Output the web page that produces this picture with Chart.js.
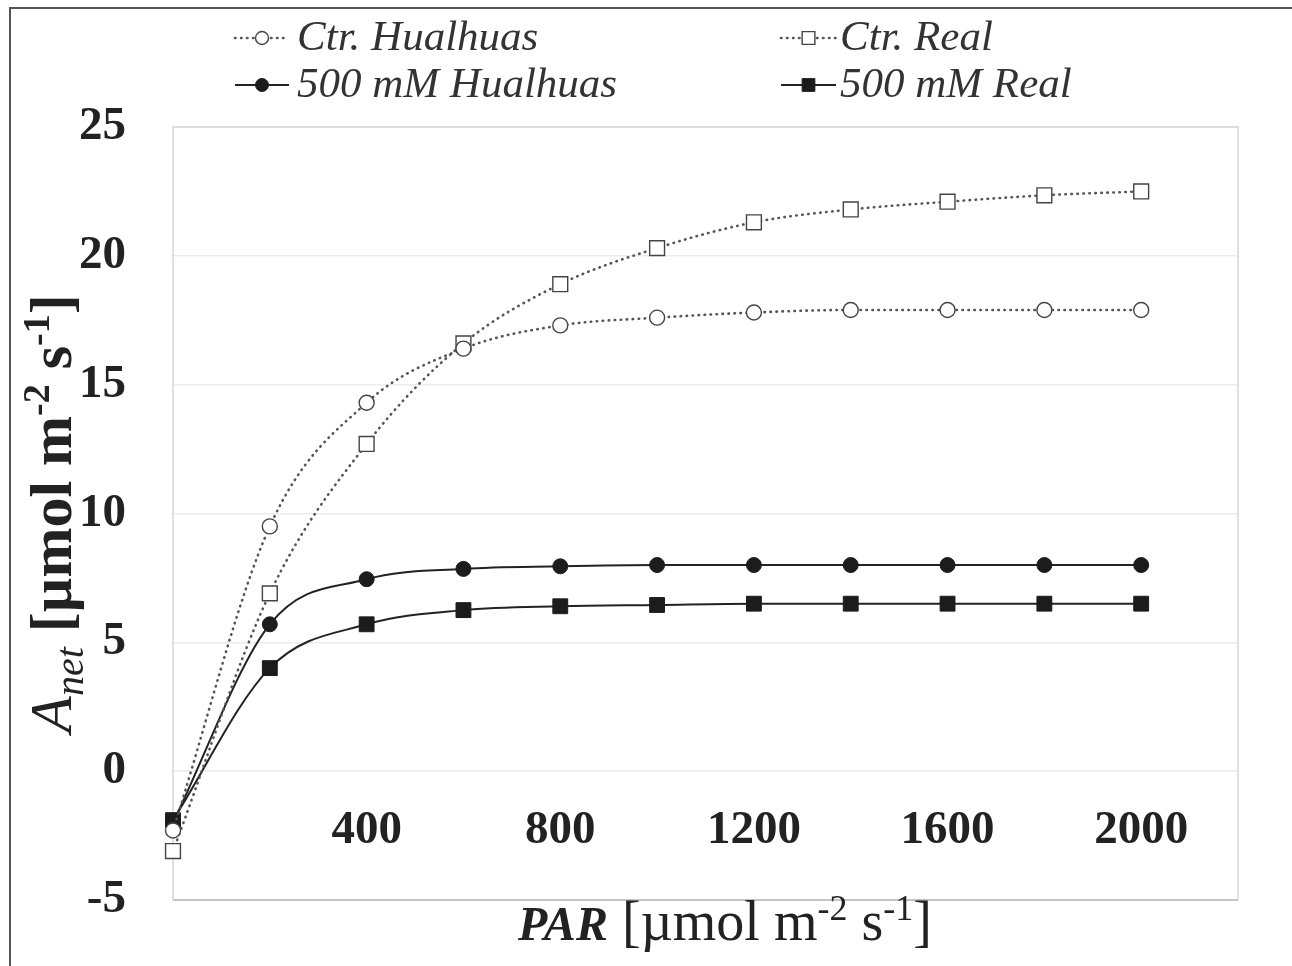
<!DOCTYPE html>
<html lang="en">
<head>
  <meta charset="UTF-8" />
  <title>Anet - PAR light response</title>
  <script src="https://cdn.jsdelivr.net/npm/chart.js"></script>
  <style>
    html, body { margin: 0; padding: 0; background: #fff; }
    #wrap { width: 1292px; height: 966px; }
  </style>
</head>
<body>
  <div id="wrap"><canvas id="chart" width="1292" height="966"></canvas></div>
  <script>
    // values
    const par = [0, 200, 400, 600, 800, 1000, 1200, 1400, 1600, 1800, 2000];
    const ctrHualhuas = [-2.3, 9.5, 14.3, 16.4, 17.3, 17.6, 17.8, 17.9, 17.9, 17.9, 17.9];
    const ctrReal = [-3.1, 6.9, 12.7, 16.6, 18.9, 20.3, 21.3, 21.8, 22.1, 22.35, 22.5];
    const saltHualhuas = [-2.0, 5.7, 7.45, 7.85, 7.95, 8.0, 8.0, 8.0, 8.0, 8.0, 8.0];
    const saltReal = [-1.9, 4.0, 5.7, 6.25, 6.4, 6.45, 6.5, 6.5, 6.5, 6.5, 6.5];
    const seriesNames = ["Ctr. Hualhuas", "Ctr. Real", "500 mM Hualhuas", "500 mM Real"];
    const xTickLabels = [400, 800, 1200, 1600, 2000];
    const yTickLabels = [-5, 0, 5, 10, 15, 20, 25];

    const SERIF = "'Liberation Serif', 'Times New Roman', serif";
    const toPoints = (vals) => par.map((x, i) => ({ x: x, y: vals[i] }));

    function dotted(label, vals, shape) {
      return {
        label: label,
        data: toPoints(vals),
        borderColor: "#555",
        borderWidth: 2.6,
        borderDash: [0.5, 5.5],
        borderCapStyle: "round",
        cubicInterpolationMode: "monotone",
        pointStyle: shape,
        pointRadius: shape === "rect" ? 10.5 : 7.5,
        pointBackgroundColor: "#fff",
        pointBorderColor: "#444",
        pointBorderWidth: 1.4,
        clip: false
      };
    }

    function solid(label, vals, shape) {
      return {
        label: label,
        data: toPoints(vals),
        borderColor: "#222",
        borderWidth: 2,
        cubicInterpolationMode: "monotone",
        pointStyle: shape,
        pointRadius: shape === "rect" ? 10.5 : 7.5,
        pointBackgroundColor: "#1c1c1c",
        pointBorderColor: "#1c1c1c",
        pointBorderWidth: 1,
        clip: false
      };
    }

    function drawMarker(ctx, style, x, y, r, fill, stroke, bw) {
      ctx.beginPath();
      if (style === "rect") {
        const h = r * Math.SQRT1_2;
        ctx.rect(x - h, y - h, 2 * h, 2 * h);
      } else {
        ctx.arc(x, y, r, 0, Math.PI * 2);
      }
      ctx.fillStyle = fill;
      ctx.fill();
      ctx.lineWidth = bw;
      ctx.strokeStyle = stroke;
      ctx.stroke();
    }

    // draws text made of pieces (sub/superscripts), centred on cx
    function richText(ctx, pieces, cx, y) {
      let total = 0;
      pieces.forEach(p => { ctx.font = p.font; p.w = ctx.measureText(p.t).width; total += p.w; });
      let x = cx - total / 2;
      ctx.textAlign = "left";
      ctx.textBaseline = "alphabetic";
      pieces.forEach(p => {
        ctx.font = p.font;
        ctx.fillText(p.t, x, y + (p.dy || 0));
        x += p.w;
      });
    }

    const decorations = {
      id: "decorations",
      beforeDatasetsDraw(chart) {
        const { ctx, chartArea: a } = chart;
        ctx.save();
        ctx.strokeStyle = "#d6d6d6";
        ctx.lineWidth = 1.5;
        ctx.strokeRect(a.left, a.top, a.right - a.left, a.bottom - a.top);
        ctx.strokeStyle = "#bdbdbd";
        ctx.beginPath();
        ctx.moveTo(a.left, a.bottom);
        ctx.lineTo(a.right, a.bottom);
        ctx.stroke();
        ctx.restore();
      },
      afterDraw(chart) {
        const { ctx, chartArea: a } = chart;
        ctx.save();

        // outer frame (top and left edges)
        ctx.strokeStyle = "#555";
        ctx.lineWidth = 2;
        ctx.beginPath();
        ctx.moveTo(10, chart.height);
        ctx.lineTo(10, 8);
        ctx.lineTo(chart.width, 8);
        ctx.stroke();

        // legend in two columns
        const cols = [{ x0: 235, x1: 289, tx: 297 }, { x0: 781, x1: 836, tx: 840 }];
        const rows = [38, 85];
        chart.data.datasets.forEach((ds, i) => {
          const c = cols[i % 2];
          const y = rows[Math.floor(i / 2)];
          ctx.beginPath();
          ctx.setLineDash(ds.borderDash || []);
          ctx.lineCap = ds.borderCapStyle || "butt";
          ctx.lineWidth = ds.borderWidth;
          ctx.strokeStyle = ds.borderColor;
          ctx.moveTo(c.x0, y);
          ctx.lineTo(c.x1, y);
          ctx.stroke();
          ctx.setLineDash([]);
          const r = ds.pointStyle === "rect" ? 9 : 6.5;
          drawMarker(ctx, ds.pointStyle, (c.x0 + c.x1) / 2, y, r,
            ds.pointBackgroundColor, ds.pointBorderColor, ds.pointBorderWidth);
          ctx.fillStyle = "#333";
          ctx.font = "italic 43px " + SERIF;
          ctx.textAlign = "left";
          ctx.textBaseline = "middle";
          ctx.fillText(ds.label, c.tx, y + 1);
        });

        // x axis title
        ctx.fillStyle = "#222";
        richText(ctx, [
          { t: "PAR", font: "italic bold 48px " + SERIF },
          { t: " [\u00b5mol m", font: "56px " + SERIF },
          { t: "-2", font: "36px " + SERIF, dy: -20 },
          { t: " s", font: "56px " + SERIF },
          { t: "-1", font: "36px " + SERIF, dy: -20 },
          { t: "]", font: "56px " + SERIF }
        ], 725, 940);

        // y axis title (rotated)
        ctx.translate(71, (a.top + a.bottom) / 2);
        ctx.rotate(-Math.PI / 2);
        richText(ctx, [
          { t: "A", font: "italic 60px " + SERIF },
          { t: "net", font: "italic 40px " + SERIF, dy: 12 },
          { t: " [\u00b5mol m", font: "bold 60px " + SERIF },
          { t: "-2", font: "bold 38px " + SERIF, dy: -22 },
          { t: " s", font: "bold 60px " + SERIF },
          { t: "-1", font: "bold 38px " + SERIF, dy: -22 },
          { t: "]", font: "bold 60px " + SERIF }
        ], 0, 0);
        ctx.restore();
      }
    };

    const tickFont = { family: SERIF, size: 47, weight: "bold" };

    new Chart(document.getElementById("chart").getContext("2d"), {
      type: "line",
      data: {
        datasets: [
          dotted(seriesNames[0], ctrHualhuas, "circle"),
          dotted(seriesNames[1], ctrReal, "rect"),
          solid(seriesNames[2], saltHualhuas, "circle"),
          solid(seriesNames[3], saltReal, "rect")
        ]
      },
      options: {
        responsive: false,
        animation: false,
        layout: { padding: { top: 127, right: 54, bottom: 66, left: 0 } },
        plugins: { legend: { display: false }, tooltip: { enabled: false } },
        scales: {
          x: {
            type: "linear",
            min: 0,
            max: 2200,
            position: { y: 0 },
            grid: { display: false },
            border: { display: false },
            ticks: {
              stepSize: 400,
              includeBounds: false,
              autoSkip: false,
              maxRotation: 0,
              padding: 23,
              color: "#222",
              font: tickFont,
              callback: (v) => xTickLabels.includes(v) ? String(v) : ""
            }
          },
          y: {
            min: -5,
            max: 25,
            grid: { color: "#ececec", lineWidth: 1.5, drawTicks: true, tickLength: 37, tickColor: "rgba(0,0,0,0)" },
            border: { display: false },
            ticks: {
              stepSize: 5,
              padding: 10,
              color: "#222",
              font: tickFont,
              callback: (v) => yTickLabels.includes(v) ? String(v) : ""
            },
            afterFit: (s) => { s.width = 173; }
          }
        }
      },
      plugins: [decorations]
    });
  </script>
</body>
</html>
